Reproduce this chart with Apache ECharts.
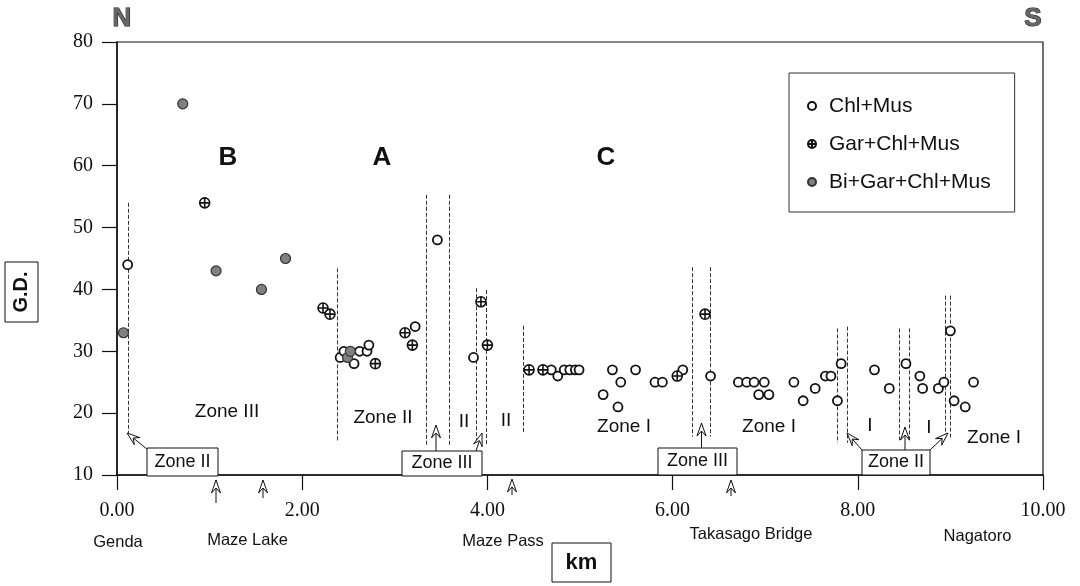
<!DOCTYPE html>
<html>
<head>
<meta charset="utf-8">
<script src="https://cdn.jsdelivr.net/npm/echarts@6/dist/echarts.min.js"></script>
<style>
html, body { margin: 0; padding: 0; background: #fff; }
#chart { width: 1080px; height: 586px; }
</style>
</head>
<body>
<div id="chart"></div>
<script>
// Chl+Mus samples (distance km, G.D.)
var chlKm = [0.115, 2.41, 2.45, 2.56, 2.62, 2.70, 2.72, 3.22, 3.46, 3.85,
  4.69, 4.76, 4.83, 4.89, 4.95, 4.99, 5.25, 5.35, 5.41, 5.44, 5.60, 5.81, 5.89,
  6.11, 6.41, 6.71, 6.80, 6.88, 6.99, 6.93, 7.04, 7.31, 7.41, 7.54, 7.65, 7.71,
  7.78, 7.82, 8.18, 8.34, 8.52, 8.67, 8.70, 8.87, 8.93, 9.00, 9.04, 9.16, 9.25];
var chlGd = [44, 29, 30, 28, 30, 30, 31, 34, 48, 29,
  27, 26, 27, 27, 27, 27, 23, 27, 21, 25, 27, 25, 25,
  27, 26, 25, 25, 25, 25, 23, 23, 25, 22, 24, 26, 26,
  22, 28, 27, 24, 28, 26, 24, 24, 25, 33.3, 22, 21, 25];

// Gar+Chl+Mus
var garKm = [0.947, 2.225, 2.30, 2.79, 3.11, 3.19, 3.93, 4.00, 4.45, 4.60, 6.05, 6.35];
var garGd = [54, 37, 36, 28, 33, 31, 38, 31, 27, 27, 26, 36];

// Bi+Gar+Chl+Mus
var biKm = [0.07, 0.71, 1.07, 1.56, 1.82, 2.49, 2.52];
var biGd = [33, 70, 43, 40, 45, 29, 30];

// zone boundaries (dashed)
var boundaryKm = [0.12, 2.38, 3.34, 3.59, 3.88, 3.99, 4.39, 6.21, 6.41, 7.78, 7.89, 8.45, 8.56, 8.94, 9.00];
var boundaryTop = [54, 43.4, 55.3, 55.3, 40.2, 39.9, 34.1, 43.6, 43.6, 33.7, 34, 33.7, 33.7, 39, 39];
var boundaryBottom = [16.8, 15.3, 14.9, 14.9, 15.4, 15.0, 16.8, 16.2, 16.2, 15.2, 15.2, 15.5, 15.5, 15.7, 15.7];

var xTickLabels = ['0.00', '2.00', '4.00', '6.00', '8.00', '10.00'];
var yTickLabels = ['10', '20', '30', '40', '50', '60', '70', '80'];

var seriesNames = ['Chl+Mus', 'Gar+Chl+Mus', 'Bi+Gar+Chl+Mus'];

function pairs(xs, ys) {
  return xs.map(function (x, i) { return [x, ys[i]]; });
}

var oplus = 'path://M10,0 A10,10 0 1,1 10,20 A10,10 0 1,1 10,0 Z M0,10 L20,10 M10,0 L10,20';

var sans = '"Liberation Sans", Arial, sans-serif';

// annotation helpers (pixel positions)
function txt(s, x, y, size, bold, extra) {
  var o = {
    type: 'text', x: x, y: y, z: 100,
    style: {
      text: s, fill: '#111', align: 'center', verticalAlign: 'middle',
      font: (bold ? 'bold ' : '') + size + 'px ' + sans
    }
  };
  if (extra) Object.assign(o.style, extra);
  return o;
}
function box(x, y, w, h) {
  return {
    type: 'rect', z: 90, shape: { x: x, y: y, width: w, height: h },
    style: { fill: '#fff', stroke: '#111', lineWidth: 1 }
  };
}
function arrow(x1, y1, x2, y2) {
  var dx = x2 - x1, dy = y2 - y1, len = Math.sqrt(dx * dx + dy * dy);
  var ux = dx / len, uy = dy / len, nx = -uy, ny = ux;
  var hl = 13, hw = 4.5, notch = 8;
  return [{
    type: 'line', z: 95,
    shape: { x1: x1, y1: y1, x2: x2 - ux * notch, y2: y2 - uy * notch },
    style: { stroke: '#111', lineWidth: 1 }
  }, {
    type: 'polygon', z: 96,
    shape: { points: [
      [x2, y2],
      [x2 - ux * hl + nx * hw, y2 - uy * hl + ny * hw],
      [x2 - ux * notch, y2 - uy * notch],
      [x2 - ux * hl - nx * hw, y2 - uy * hl - ny * hw]
    ] },
    style: { fill: '#fff', stroke: '#111', lineWidth: 1 }
  }];
}

var graphics = [
  txt('N', 122, 19, 26, true, { fill: '#666', stroke: '#111', lineWidth: 1 }),
  txt('S', 1033, 19, 26, true, { fill: '#666', stroke: '#111', lineWidth: 1 }),
  txt('B', 228, 158, 26, true),
  txt('A', 382, 158, 26, true),
  txt('C', 606, 158, 26, true),
  txt('Zone III', 227, 412, 19),
  txt('Zone II', 383, 418, 19),
  txt('II', 464, 422, 19),
  txt('II', 506, 421, 19),
  txt('Zone I', 624, 427, 19),
  txt('Zone I', 769, 427, 19),
  txt('I', 870, 426, 19),
  txt('I', 929, 428, 19),
  txt('Zone I', 994, 438, 19),
  box(147, 448, 71, 28), txt('Zone II', 182.5, 462, 18),
  box(402, 451, 80, 25), txt('Zone III', 442, 463.5, 18),
  box(658, 448, 79, 27), txt('Zone III', 697.5, 461.5, 18),
  box(862, 450, 68, 25), txt('Zone II', 896, 462.5, 18),
  txt('Genda', 118, 542, 16.5),
  txt('Maze Lake', 247.5, 540, 16.5),
  txt('Maze Pass', 503, 541, 16.5),
  txt('Takasago Bridge', 751, 534, 16.5),
  txt('Nagatoro', 977.5, 536, 16.5),
  box(552, 543, 59, 39), txt('km', 581.5, 562.5, 22, true),
  box(5, 262, 33, 60),
  {
    type: 'text', x: 21.5, y: 292, rotation: Math.PI / 2, z: 100,
    style: { text: 'G.D.', fill: '#111', align: 'center', verticalAlign: 'middle', font: 'bold 20px ' + sans }
  }
];
[
  [147, 449, 127, 433], [436, 451, 436, 425], [476, 451, 482, 433], [701.5, 448, 701.5, 423],
  [862, 450, 847, 433], [905, 450, 905, 427], [930, 450, 948, 433],
  [216, 503, 216, 480], [263, 498, 263, 480], [512, 495, 512, 479], [731, 496, 731, 480]
].forEach(function (a) { graphics = graphics.concat(arrow(a[0], a[1], a[2], a[3])); });

var chart = echarts.init(document.getElementById('chart'));
var option = {
  backgroundColor: '#fff',
  animation: false,
  grid: { left: 117, right: 37, top: 42, bottom: 111, show: true, borderColor: '#111', borderWidth: 1.2 },
  legend: {
    data: seriesNames,
    orient: 'vertical',
    left: 789, top: 73,
    itemWidth: 24, itemHeight: 8, itemGap: 14,
    padding: [21, 24, 18, 18],
    borderColor: '#333', borderWidth: 1,
    backgroundColor: '#fff',
    textStyle: { fontFamily: sans, fontSize: 21, color: '#111', lineHeight: 24 }
  },
  xAxis: {
    type: 'value', min: 0, max: 10, interval: 2,
    axisLine: { lineStyle: { color: '#111', width: 1.5 } },
    axisTick: { length: 15, lineStyle: { color: '#111', width: 1.2 } },
    axisLabel: {
      margin: 26, color: '#111', fontFamily: '"Liberation Serif", serif', fontSize: 20,
      formatter: function (v) { return xTickLabels[Math.round(v / 2)]; }
    },
    splitLine: { show: false }
  },
  yAxis: {
    type: 'value', min: 10, max: 80, interval: 10,
    axisLine: { show: true, lineStyle: { color: '#111', width: 1.5 } },
    axisTick: { show: true, length: 15, lineStyle: { color: '#111', width: 1.2 } },
    axisLabel: {
      margin: 24, color: '#111', fontFamily: '"Liberation Serif", serif', fontSize: 20,
      formatter: function (v) { return yTickLabels[Math.round(v / 10) - 1]; }
    },
    splitLine: { show: false }
  },
  graphic: graphics,
  series: [
    {
      type: 'lines', coordinateSystem: 'cartesian2d', silent: true, z: 1,
      data: boundaryKm.map(function (x, i) {
        return { coords: [[x, boundaryTop[i]], [x, boundaryBottom[i]]] };
      }),
      lineStyle: { color: '#333', width: 1, type: [4, 2], opacity: 1 }
    },
    {
      name: seriesNames[0], type: 'scatter', z: 3,
      data: pairs(chlKm, chlGd),
      symbol: 'circle', symbolSize: 9,
      itemStyle: { color: '#fff', borderColor: '#111', borderWidth: 1.8, opacity: 1 }
    },
    {
      name: seriesNames[1], type: 'scatter', z: 4,
      data: pairs(garKm, garGd),
      symbol: oplus, symbolSize: 10,
      itemStyle: { color: '#fff', borderColor: '#111', borderWidth: 1.6, opacity: 1 }
    },
    {
      name: seriesNames[2], type: 'scatter', z: 5,
      data: pairs(biKm, biGd),
      symbol: 'circle', symbolSize: 10,
      itemStyle: { color: '#808080', borderColor: '#333', borderWidth: 1.2, opacity: 1 }
    }
  ]
};
chart.setOption(option);
</script>
</body>
</html>
